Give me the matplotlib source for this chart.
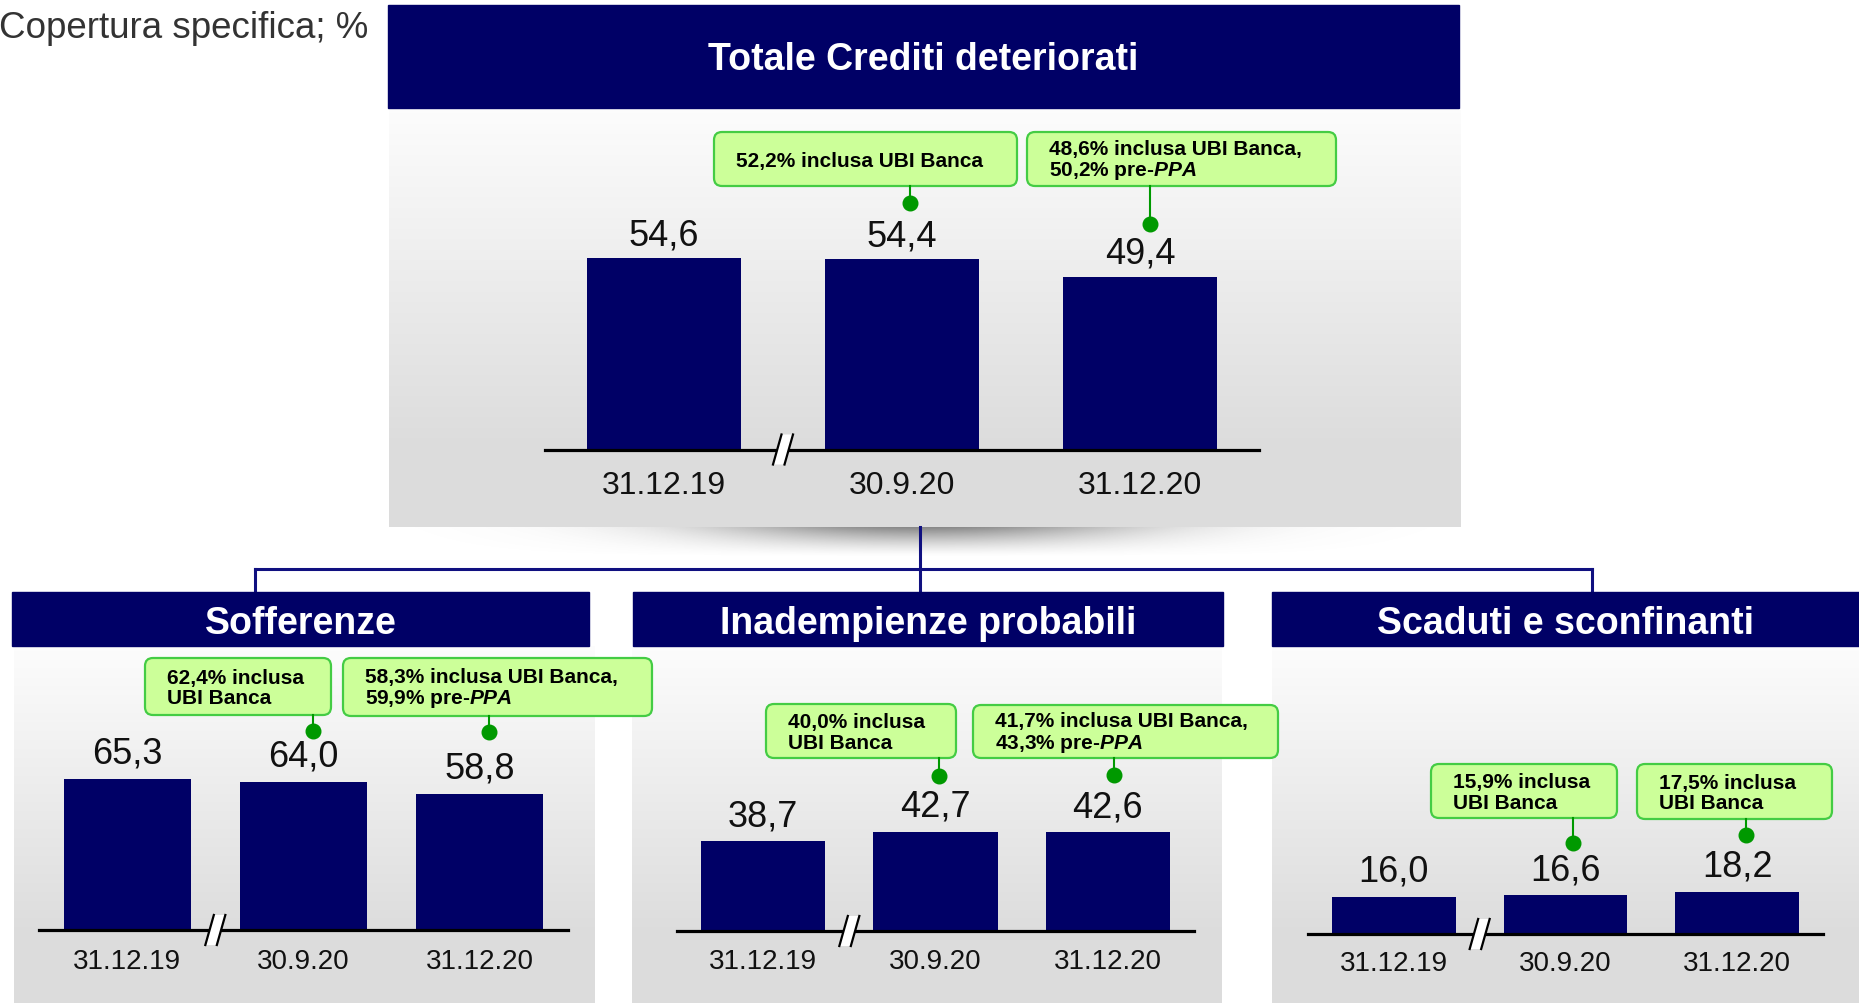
import numpy as np
import matplotlib.pyplot as plt
from matplotlib.patches import Rectangle, FancyBboxPatch, Polygon

plt.rcParams['font.family'] = ['Liberation Sans', 'DejaVu Sans']
plt.rcParams['mathtext.fontset'] = 'custom'
plt.rcParams['mathtext.it'] = 'Liberation Sans:italic:bold'
plt.rcParams['mathtext.rm'] = 'Liberation Sans:bold'

# data
periods = ["31.12.19", "30.9.20", "31.12.20"]
totale = [54.6, 54.4, 49.4]
sofferenze = [65.3, 64.0, 58.8]
inadempienze = [38.7, 42.7, 42.6]
scaduti = [16.0, 16.6, 18.2]

notes_totale = [None, "52,2% inclusa UBI Banca",
                "48,6% inclusa UBI Banca,\n50,2% pre-$\\mathit{PPA}$"]
notes_sofferenze = [None, "62,4% inclusa\nUBI Banca",
                    "58,3% inclusa UBI Banca,\n59,9% pre-$\\mathit{PPA}$"]
notes_inadempienze = [None, "40,0% inclusa\nUBI Banca",
                      "41,7% inclusa UBI Banca,\n43,3% pre-$\\mathit{PPA}$"]
notes_scaduti = [None, "15,9% inclusa\nUBI Banca", "17,5% inclusa\nUBI Banca"]

NAVY = "#000066"
LINE_NAVY = "#101080"
BOX_FILL = "#ccff99"
BOX_EDGE = "#44cc44"
DOT = "#009900"

W, H = 1859, 1004
fig = plt.figure(figsize=(W / 100, H / 100), dpi=100)

bg = fig.add_axes([0, 0, 1, 1], zorder=0)
fg = fig.add_axes([0, 0, 1, 1], zorder=3)
for a in (bg, fg):
    a.set_xlim(0, W)
    a.set_ylim(H, 0)
    a.axis('off')
fg.patch.set_alpha(0)

# layout of each block: header box, gradient body, axis line (x0, x1, baseline) and px per unit
panels = [
    dict(title="Totale Crediti deteriorati", values=totale, notes=notes_totale,
         header=(388, 6, 1459, 109), body=(389, 109, 1461, 528),
         axis=(545, 1259, 450.5), scale=3.5, bar_w=0.65,
         tick_fs=23, tick_gap=44, val_gap=14, title_dy=3,
         boxes=[(714, 133, 1017, 187), (1027, 133, 1336, 187)],
         dots=[(8, 56), (10, 53)]),
    dict(title="Sofferenze", values=sofferenze, notes=notes_sofferenze,
         header=(12, 593, 589, 647), body=(14, 647, 595, 1004),
         axis=(39, 568, 931), scale=2.32, bar_w=0.72,
         tick_fs=20, tick_gap=38, val_gap=16, title_dy=4,
         boxes=[(145, 659, 331, 716), (343, 659, 652, 717)],
         dots=[(10, 51), (9, 62)]),
    dict(title="Inadempienze probabili", values=inadempienze, notes=notes_inadempienze,
         header=(633, 593, 1223, 647), body=(632, 647, 1222, 1004),
         axis=(677, 1194, 932), scale=2.32, bar_w=0.72,
         tick_fs=20, tick_gap=37, val_gap=16, title_dy=4,
         boxes=[(766, 705, 956, 759), (973, 706, 1278, 759)],
         dots=[(4, 56), (6, 57)]),
    dict(title="Scaduti e sconfinanti", values=scaduti, notes=notes_scaduti,
         header=(1272, 593, 1859, 647), body=(1272, 647, 1859, 1004),
         axis=(1308, 1823, 935), scale=2.32, bar_w=0.72,
         tick_fs=20, tick_gap=36, val_gap=16, title_dy=4,
         boxes=[(1431, 765, 1617, 819), (1637, 765, 1832, 820)],
         dots=[(8, 52), (9, 57)]),
]

# vertical gradient used for the panel bodies
t = np.linspace(0, 1, 256)
g = np.clip(0.99 - (0.99 - 0.865) * t / 0.8, 0.865, 1)
grad = np.repeat(g[:, None, None], 3, axis=2)


def to_px(ax, x, y):
    dx, dy = ax.transData.transform((x, y))
    return dx, H - dy


# shadow under the top block
sx = np.linspace(-1, 1, 400)
sy = np.linspace(0, 1, 40)
alpha = np.exp(-(sx[None, :] / 0.42) ** 2) * (1 - sy[:, None]) ** 1.4 * 0.85
shadow = np.zeros((40, 400, 4))
shadow[..., :3] = 0.45
shadow[..., 3] = alpha
bg.imshow(shadow, extent=(400, 1445, 558, 528), aspect='auto', zorder=1)

# tree connectors
bg.plot([920, 920], [528, 593], color=LINE_NAVY, lw=2.2, zorder=2)
bg.plot([255, 1592], [570, 570], color=LINE_NAVY, lw=2.2, zorder=2)
bg.plot([255, 255], [570, 593], color=LINE_NAVY, lw=2.2, zorder=2)
bg.plot([1592, 1592], [570, 593], color=LINE_NAVY, lw=2.2, zorder=2)

bg.text(-1, 29, "Copertura specifica; %", fontsize=26.5, color="#333333",
        ha='left', va='center')

x = np.arange(len(periods))
for p in panels:
    l, tp, r, b = p['body']
    bg.imshow(grad, extent=(l, r, b, tp), aspect='auto', zorder=1)
    l, tp, r, b = p['header']
    bg.add_patch(Rectangle((l, tp), r - l, b - tp, color=NAVY, zorder=3))
    bg.text((l + r) / 2, (tp + b) / 2 + p['title_dy'], p['title'], color='white',
            fontsize=27, fontweight='bold', ha='center', va='center', zorder=4)

    x0, x1, base = p['axis']
    h = 320
    ax = fig.add_axes([x0 / W, (H - base) / H, (x1 - x0) / W, h / H], zorder=2)
    ax.set_facecolor('none')
    ax.set_xlim(-0.5, 2.5)
    ax.set_ylim(0, h / p['scale'])
    ax.bar(x, p['values'], width=p['bar_w'], color=NAVY)
    for s in ('top', 'right', 'left'):
        ax.spines[s].set_visible(False)
    ax.spines['bottom'].set_linewidth(2.3)
    ax.spines['bottom'].set_color('black')
    ax.set_xticks([])
    ax.set_yticks([])

    for i, v in enumerate(p['values']):
        ax.annotate(f"{v:.1f}".replace('.', ','), (i, v), xytext=(0, p['val_gap']),
                    textcoords='offset pixels', ha='center', va='baseline',
                    fontsize=26, color='#111111', annotation_clip=False)
        ax.annotate(periods[i], (i, 0), xytext=(0, -p['tick_gap']),
                    textcoords='offset pixels', ha='center', va='baseline',
                    fontsize=p['tick_fs'], color='#111111', annotation_clip=False)

    # axis break between the first two periods
    cx, cy = to_px(ax, 0.5, 0)
    fg.add_patch(Polygon([(cx - 10, cy + 15), (cx - 1.5, cy - 15),
                          (cx + 10, cy - 15), (cx + 1.5, cy + 15)],
                         closed=True, fc='white', ec='none', zorder=2))
    fg.plot([cx - 10, cx - 1.5], [cy + 15, cy - 15], color='black', lw=1.6, zorder=3)
    fg.plot([cx + 1.5, cx + 10], [cy + 15, cy - 15], color='black', lw=1.6, zorder=3)

    # callouts
    j = 0
    for i, note in enumerate(p['notes']):
        if note is None:
            continue
        bl, bt, br, bb = p['boxes'][j]
        ddx, ddy = p['dots'][j]
        j += 1
        bx, by = to_px(ax, i, p['values'][i])
        dx_, dy_ = bx + ddx, by - ddy
        fg.add_patch(FancyBboxPatch((bl, bt), br - bl, bb - bt,
                                    boxstyle='round,pad=0,rounding_size=8',
                                    fc=BOX_FILL, ec=BOX_EDGE, lw=1.6, zorder=4))
        fg.text(bl + 22, (bt + bb) / 2 + 1, note, ha='left', va='center', fontsize=15,
                fontweight='bold', color='black', linespacing=1.1, zorder=5)
        fg.plot([dx_, dx_], [bb, dy_], color=DOT, lw=1.5, zorder=4)
        fg.plot(dx_, dy_, 'o', ms=10.5, color=DOT, zorder=5)

bg.set_xlim(0, W)
bg.set_ylim(H, 0)
fg.set_xlim(0, W)
fg.set_ylim(H, 0)

fig.savefig("out.png", dpi=100)
